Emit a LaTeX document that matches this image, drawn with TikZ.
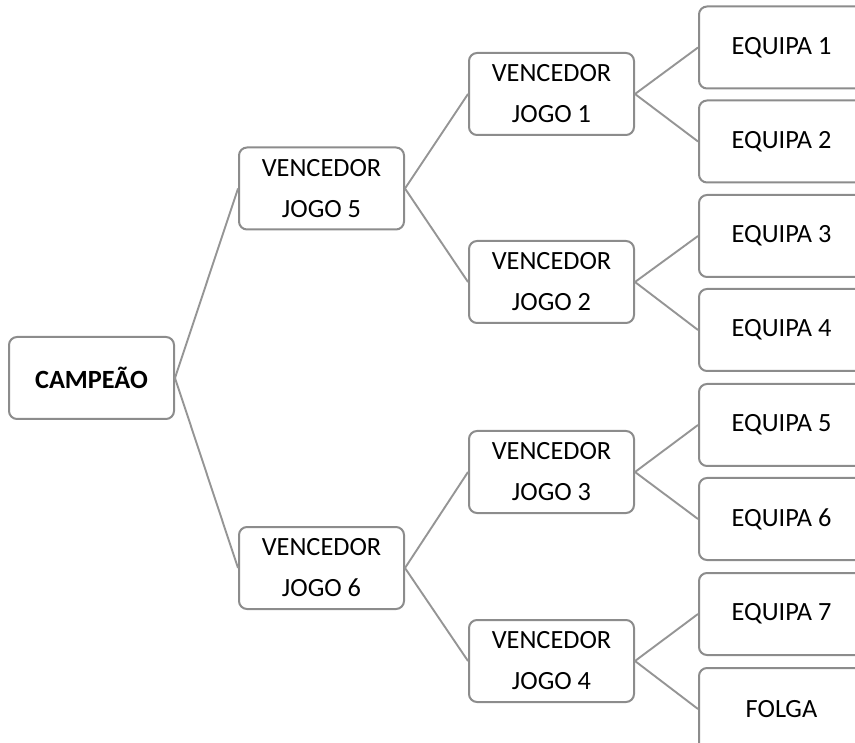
\documentclass[tikz,border=0pt]{standalone}
\usepackage{fontspec}
\setmainfont{Carlito}
\definecolor{boxgray}{HTML}{8C8C8C}
\definecolor{linegray}{HTML}{959595}
\begin{document}
\begin{tikzpicture}[x=1pt,y=-1pt,
  box/.style={draw=boxgray, line width=2pt, rounded corners=8pt, fill=white,
    minimum width=165pt, minimum height=82pt, inner sep=0pt, align=center,
    font=\fontsize{26.3}{41}\selectfont},
  link/.style={draw=linegray, line width=1.9pt}]
\useasboundingbox (0,0) rectangle (855,743);
\clip (0,0) rectangle (855,743);
\node[box] (camp) at (91.5,378) {\textbf{CAMPEÃO}};
\node[box] (v5) at (321.5,188.5) {VENCEDOR\\JOGO 5};
\node[box] (v6) at (321.5,568) {VENCEDOR\\JOGO 6};
\node[box] (v1) at (551.5,94) {VENCEDOR\\JOGO 1};
\node[box] (v2) at (551.5,282) {VENCEDOR\\JOGO 2};
\node[box] (v3) at (551.5,472) {VENCEDOR\\JOGO 3};
\node[box] (v4) at (551.5,661) {VENCEDOR\\JOGO 4};
\node[box] (e1) at (781.5,47.5) {EQUIPA 1};
\node[box] (e2) at (781.5,141.5) {EQUIPA 2};
\node[box] (e3) at (781.5,236) {EQUIPA 3};
\node[box] (e4) at (781.5,330) {EQUIPA 4};
\node[box] (e5) at (781.5,425) {EQUIPA 5};
\node[box] (e6) at (781.5,519) {EQUIPA 6};
\node[box] (e7) at (781.5,614) {EQUIPA 7};
\node[box] (f) at (781.5,709) {FOLGA};
\draw[link] (camp.east) -- (v5.west);
\draw[link] (camp.east) -- (v6.west);
\draw[link] (v5.east) -- (v1.west);
\draw[link] (v5.east) -- (v2.west);
\draw[link] (v6.east) -- (v3.west);
\draw[link] (v6.east) -- (v4.west);
\draw[link] (v1.east) -- (e1.west);
\draw[link] (v1.east) -- (e2.west);
\draw[link] (v2.east) -- (e3.west);
\draw[link] (v2.east) -- (e4.west);
\draw[link] (v3.east) -- (e5.west);
\draw[link] (v3.east) -- (e6.west);
\draw[link] (v4.east) -- (e7.west);
\draw[link] (v4.east) -- (f.west);
\end{tikzpicture}
\end{document}
